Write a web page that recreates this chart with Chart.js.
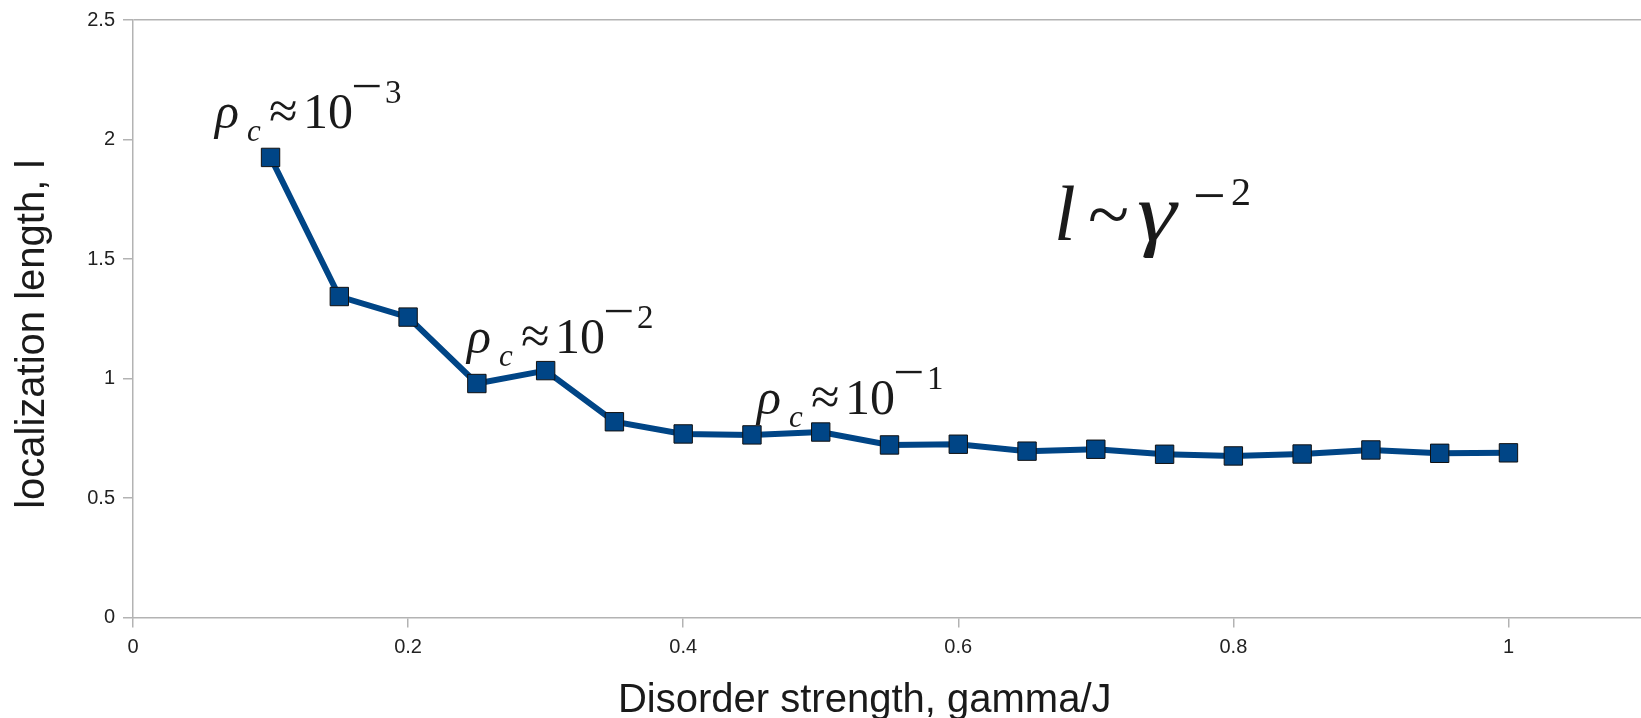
<!DOCTYPE html>
<html>
<head>
<meta charset="utf-8">
<script src="https://cdn.jsdelivr.net/npm/chart.js@4.4.1/dist/chart.umd.min.js"></script>
<style>
  html, body { margin: 0; padding: 0; background: #fff; overflow: hidden; }
  #wrap { width: 1646px; height: 718px; }
</style>
</head>
<body>
<div id="wrap"><canvas id="chart" width="1646" height="718"></canvas></div>
<script>
// ── data ────────────────────────────────────────────────────────
const gammaValues = [0.10, 0.15, 0.20, 0.25, 0.30, 0.35, 0.40, 0.45, 0.50, 0.55,
                     0.60, 0.65, 0.70, 0.75, 0.80, 0.85, 0.90, 0.95, 1.00];
const localizationLength = [1.925, 1.343, 1.257, 0.979, 1.033, 0.819, 0.768, 0.764, 0.776, 0.722,
                            0.725, 0.696, 0.704, 0.683, 0.676, 0.684, 0.701, 0.687, 0.689];
const xTicks = [0, 0.2, 0.4, 0.6, 0.8, 1];
const yTicks = [0, 0.5, 1, 1.5, 2, 2.5];
const xTitle = 'Disorder strength, gamma/J';
const yTitle = 'localization length, l';

const BLUE = '#004586';
const AXIS = '#b3b3b3';
const TEXT = '#222222';
const SANS = '"Liberation Sans", Arial, sans-serif';
const SERIF = '"Liberation Serif", "Times New Roman", serif';

// math labels, anchored in data space (pen position of first glyph, baseline)
const rhoRuns = (exp) => [
    { t: 'ρ', font: 'italic 50px ' + SERIF, dx: 3, dy: 0 },
    { t: 'c', font: 'italic 31px ' + SERIF, dx: 35, dy: 13 },
    { t: '≈', font: '52px ' + SERIF, dx: 57, dy: 0 },
    { t: '10', font: '50px ' + SERIF, dx: 91, dy: 0 },
    { t: '−', font: '48px ' + SERIF, dx: 139, dy: -26, sx: 1.15 },
    { t: String(exp), font: '33px ' + SERIF, dx: 173, dy: -25 }
];
const labels = [
    { x: 0.0574, y: 2.050, runs: rhoRuns(3) },
    { x: 0.2406, y: 1.107, runs: rhoRuns(2) },
    { x: 0.4515, y: 0.850, runs: rhoRuns(1) },
    { x: 0.6696, y: 1.581, runs: [
        { t: 'l', font: 'italic 78px ' + SERIF, dx: 0, dy: 0 },
        { t: '~', font: '76px ' + SERIF, dx: 34, dy: 0 },
        { t: 'γ', font: 'italic 82px ' + SERIF, dx: 83, dy: 0, sx: 1.22 },
        { t: '−', font: '58px ' + SERIF, dx: 139, dy: -25 },
        { t: '2', font: '40px ' + SERIF, dx: 177, dy: -35 }
    ] }
];

const mathLabels = {
    id: 'mathLabels',
    afterDatasetsDraw(chart) {
        const ctx = chart.ctx;
        const xs = chart.scales.x, ys = chart.scales.y;
        ctx.save();
        ctx.fillStyle = '#1a1a1a';
        ctx.textBaseline = 'alphabetic';
        ctx.textAlign = 'left';
        labels.forEach(l => {
            const px = xs.getPixelForValue(l.x);
            const py = ys.getPixelForValue(l.y);
            l.runs.forEach(r => {
                ctx.font = r.font;
                ctx.save();
                ctx.translate(px + r.dx, py + r.dy);
                ctx.scale(r.sx || 1, 1);
                ctx.fillText(r.t, 0, 0);
                ctx.restore();
            });
        });
        ctx.restore();
    },
    // axis titles sit a little off the plot centre in the original
    afterDraw(chart) {
        const ctx = chart.ctx;
        const xs = chart.scales.x, ys = chart.scales.y;
        ctx.save();
        ctx.fillStyle = '#1a1a1a';
        ctx.font = '40px ' + SANS;
        ctx.textAlign = 'center';
        ctx.textBaseline = 'alphabetic';
        ctx.fillText(xTitle, xs.getPixelForValue(0.532), 712);
        ctx.translate(44, ys.getPixelForValue(1.185));
        ctx.rotate(-Math.PI / 2);
        ctx.fillText(yTitle, 0, 0);
        ctx.restore();
    }
};

const keepTicks = (list) => (scale) => {
    scale.ticks = list.map(v => ({ value: v }));
};

new Chart(document.getElementById('chart').getContext('2d'), {
    type: 'line',
    data: {
        datasets: [{
            data: gammaValues.map((g, i) => ({ x: g, y: localizationLength[i] })),
            borderColor: BLUE,
            borderWidth: 6,
            backgroundColor: BLUE,
            pointStyle: 'rect',
            pointRadius: 13,
            pointBackgroundColor: BLUE,
            pointBorderColor: '#111111',
            pointBorderWidth: 1,
            tension: 0,
            fill: false
        }]
    },
    options: {
        responsive: false,
        animation: false,
        devicePixelRatio: 1,
        layout: { padding: { top: 18, right: 0, bottom: 0, left: 0 }, autoPadding: false },
        plugins: { legend: { display: false }, tooltip: { enabled: false } },
        scales: {
            x: {
                type: 'linear', min: 0, max: 1.1,
                afterBuildTicks: keepTicks(xTicks),
                afterFit: (s) => { s.height = 100.5; s.paddingLeft = 0; s.paddingRight = 0; },
                grid: { color: 'rgba(0,0,0,0)', tickColor: AXIS, tickLength: 10, lineWidth: 1.5 },
                border: { color: AXIS, width: 1.5 },
                ticks: { color: TEXT, font: { family: SANS, size: 20 }, padding: 8,
                         stepSize: 0.2, includeBounds: false,
                         callback: v => String(+v.toFixed(1)) },
                title: { display: false }
            },
            y: {
                min: 0, max: 2.5,
                afterBuildTicks: keepTicks(yTicks),
                afterFit: (s) => { s.width = 133; },
                grid: { color: (c) => (c.tick && c.tick.value === 2.5) ? AXIS : 'rgba(0,0,0,0)',
                        tickColor: AXIS, tickLength: 10, lineWidth: 1.5 },
                border: { color: AXIS, width: 1.5 },
                ticks: { color: TEXT, font: { family: SANS, size: 20 }, padding: 8,
                         callback: v => String(v) },
                title: { display: false }
            }
        }
    },
    plugins: [mathLabels]
});
</script>
</body>
</html>
